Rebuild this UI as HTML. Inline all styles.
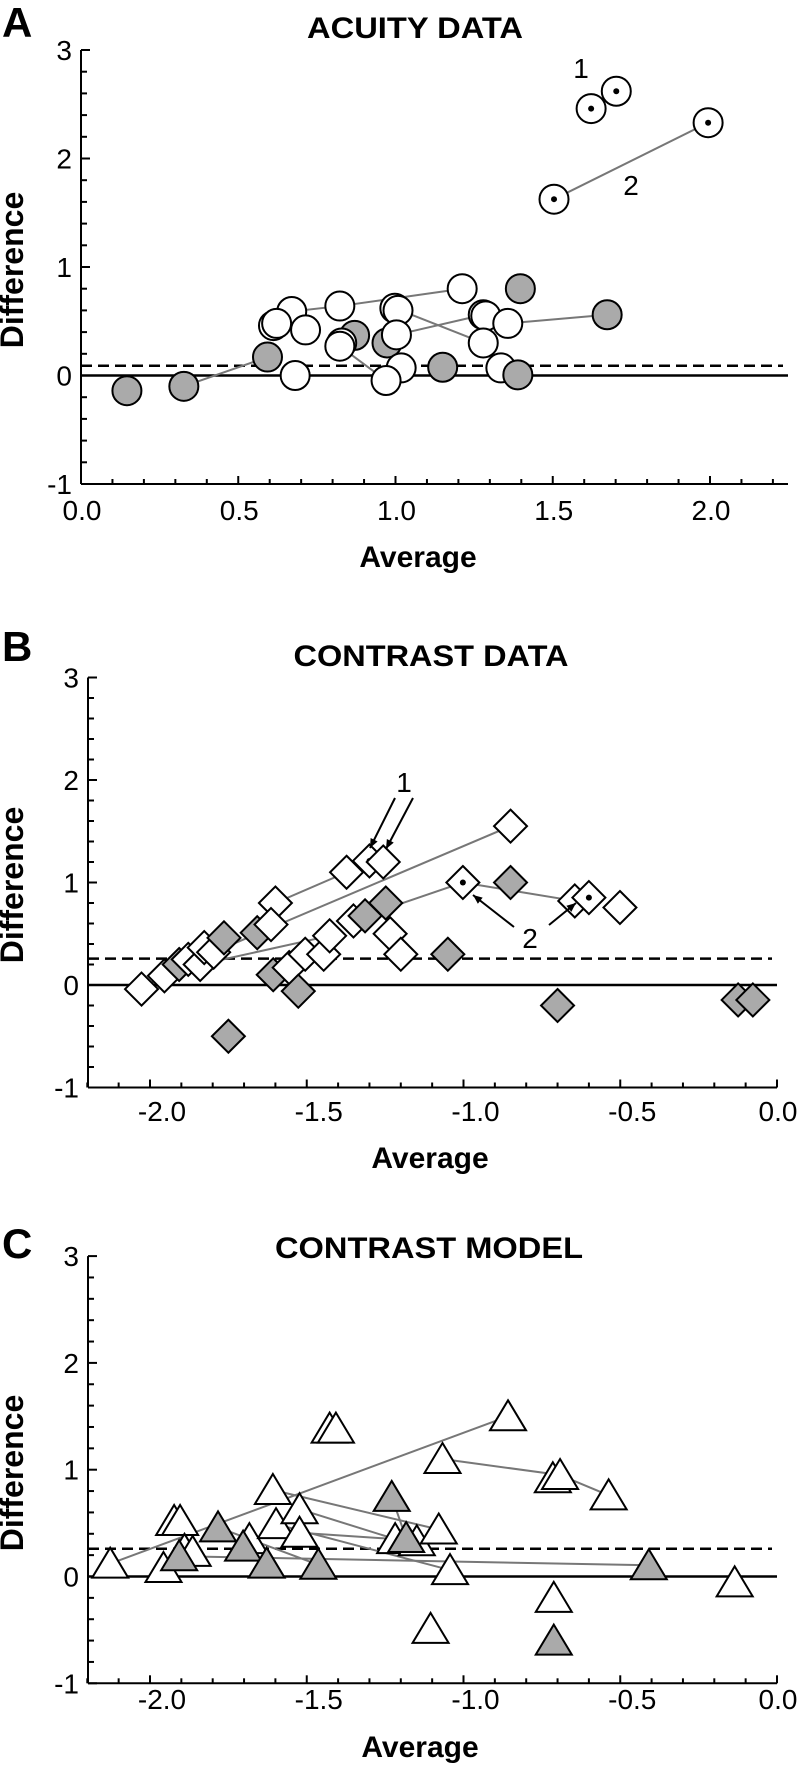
<!DOCTYPE html>
<html><head><meta charset="utf-8"><style>
html,body{margin:0;padding:0;background:#fff}
svg{display:block}
text{font-family:"Liberation Sans",Arial,sans-serif}
</style></head><body>
<svg id="fig" width="800" height="1766" viewBox="0 0 800 1766" xmlns="http://www.w3.org/2000/svg"></svg>
<script>
// ---- Panel A: acuity data ----
const acuityAvg  = [0.146,0.327,0.593,0.67,0.612,0.622,0.714,0.681,0.823,0.870,0.829,0.823,0.998,1.008,0.973,1.003,1.018,0.970,1.150,1.212,1.279,1.287,1.279,1.357,1.335,1.397,1.389,1.673,1.504,1.622,1.702,1.994];
const acuityDiff = [-0.14,-0.10,0.17,0.59,0.46,0.48,0.42,0.0,0.64,0.37,0.30,0.27,0.62,0.60,0.30,0.375,0.07,-0.046,0.076,0.80,0.56,0.55,0.30,0.48,0.07,0.80,0.006,0.56,1.625,2.46,2.62,2.33];
const acuityGray = [1,1,1,0,0,0,0,0,0,1,0,0,0,0,1,0,0,0,1,0,0,0,0,0,0,1,1,1,0,0,0,0];
const acuityDot  = [0,0,0,0,0,0,0,0,0,0,0,0,0,0,0,0,0,0,0,0,0,0,0,0,0,0,0,0,1,1,1,1];
const acuityLinks = [[1,2],[3,8],[8,19],[12,22],[15,20],[23,27],[11,17],[28,31]];
const acuityBias = 0.09;

// ---- Panel B: contrast data ----
const contrastAvg  = [-2.027,-1.954,-1.907,-1.878,-1.84,-1.827,-1.797,-1.764,-1.75,-1.658,-1.60,-1.614,-1.607,-1.556,-1.527,-1.505,-1.446,-1.427,-1.373,-1.30,-1.256,-1.351,-1.314,-1.248,-1.234,-1.20,-1.05,-1.002,-0.85,-0.85,-0.70,-0.645,-0.60,-0.501,-0.124,-0.077];
const contrastDiff = [-0.04,0.09,0.20,0.25,0.20,0.365,0.32,0.46,-0.50,0.51,0.80,0.59,0.10,0.17,-0.06,0.30,0.30,0.48,1.10,1.21,1.20,0.625,0.675,0.80,0.50,0.30,0.30,1.00,1.00,1.55,-0.20,0.82,0.853,0.756,-0.146,-0.146];
const contrastGray = [0,0,1,0,0,0,0,1,1,1,0,0,1,0,1,0,0,0,0,0,0,0,1,1,0,0,1,0,1,0,1,0,0,0,1,1];
const contrastDot  = [0,0,0,0,0,0,0,0,0,0,0,0,0,0,0,0,0,0,0,1,0,0,0,0,0,0,0,1,0,0,0,0,1,0,0,0];
const contrastLinks = [[0,3],[10,18],[6,29],[4,17],[22,27],[27,31]];
const contrastBias = 0.257;

// ---- Panel C: contrast model ----
const modelAvg  = [-2.127,-1.957,-1.923,-1.904,-1.89,-1.864,-1.907,-1.783,-1.683,-1.703,-1.628,-1.608,-1.598,-1.523,-1.523,-1.463,-1.427,-1.407,-1.229,-1.218,-1.149,-1.183,-1.079,-1.043,-1.067,-1.105,-0.858,-0.715,-0.692,-0.537,-0.712,-0.712,-0.409,-0.135];
const modelDiff = [0.12,0.08,0.52,0.52,0.25,0.23,0.19,0.46,0.35,0.28,0.12,0.81,0.49,0.63,0.41,0.11,1.385,1.385,0.745,0.35,0.33,0.36,0.44,0.06,1.10,-0.49,1.50,0.92,0.95,0.76,-0.20,-0.60,0.105,-0.055];
const modelGray = [0,0,0,0,0,0,1,1,0,1,1,0,0,0,0,1,0,0,1,0,0,1,0,0,0,0,0,0,0,0,0,1,1,0];
const modelLinks = [[0,26],[24,28],[28,29],[11,22],[13,19],[14,19],[7,15],[6,32],[18,21],[12,23]];
const modelBias = 0.26;

const NS = "http://www.w3.org/2000/svg";
const svg = document.getElementById('fig');
function mk(tag, attrs, parent){
  const e = document.createElementNS(NS, tag);
  for (const k in attrs) e.setAttribute(k, attrs[k]);
  (parent||svg).appendChild(e);
  return e;
}
function txt(s, attrs, parent){ const t = mk('text', attrs, parent); t.textContent = s; return t; }

function panel(cfg){
  const g = mk('g', {});
  
  
  const X = v => cfg.x0 + (v - cfg.xv0) * cfg.xs;
  const Y = v => cfg.y0 - v * cfg.ys;
  const axL = cfg.axisX, axR = cfg.axisR, axT = Y(3), axB = Y(-1);
  const L = txt(cfg.letter, {x: 2, y: cfg.letterY, 'font-size': 42, 'font-weight': 'bold'}, g);
  
  
  const T = txt(cfg.title, {x: cfg.titleX, y: cfg.titleY, 'font-size': 30, 'font-weight': 'bold', 'text-anchor': 'middle', textLength: cfg.titleW, lengthAdjust: 'spacingAndGlyphs'}, g);
  
  
  const ya = mk('line', {x1: axL, y1: axT, x2: axL, y2: axB, stroke: '#000', 'stroke-width': 2}, g);
  
  
  const xa = mk('line', {x1: axL, y1: axB, x2: axR, y2: axB, stroke: '#000', 'stroke-width': 2}, g);
  
  
  for (let i = -5; i <= 15; i++) {
    const v = i / 5, yy = Y(v), major = (i % 5 === 0);
    mk('line', {x1: axL, y1: yy, x2: axL + (major ? 9 : 6), y2: yy, stroke: '#000', 'stroke-width': 2}, g);
    if (major) {
      const t = txt(String(v), {x: axL - 9, y: yy + 10, 'font-size': 28, 'text-anchor': 'end'}, g);
      
      
    }
  }
  for (let i = Math.ceil(cfg.xmin * 10); i <= Math.floor(cfg.xmax * 10 + 1e-6); i++) {
    const v = i / 10, xx = X(v), major = (i % 5 === 0);
    mk('line', {x1: xx, y1: axB, x2: xx, y2: axB - (major ? 8 : 5), stroke: '#000', 'stroke-width': 2}, g);
    if (major) {
      const t = txt(v.toFixed(1), {x: xx + (v < 0 ? 12 : 1), y: cfg.xLabY, 'font-size': 28, 'text-anchor': 'middle'}, g);
      
      
    }
  }
  const xt = txt('Average', {x: cfg.avgX, y: cfg.avgY, 'font-size': 30, 'font-weight': 'bold', 'text-anchor': 'middle'}, g);
  
  
  const yt = txt('Difference', {x: 0, y: 0, 'font-size': 32, 'font-weight': 'bold', 'text-anchor': 'middle', transform: 'translate(23,' + cfg.diffY + ') rotate(-90)'}, g);
  
  
  const zl = mk('line', {x1: axL, y1: Y(0), x2: axR, y2: Y(0), stroke: '#000', 'stroke-width': 2.5}, g);
  
  
  const bl = mk('line', {x1: axL, y1: Y(cfg.bias), x2: axR - 5, y2: Y(cfg.bias), stroke: '#000', 'stroke-width': 2.5, 'stroke-dasharray': '11,6'}, g);
  
  
  cfg.links.forEach(p => {
    const a = p[0], b = p[1];
    const l = mk('line', {x1: X(cfg.xs_[a]), y1: Y(cfg.ys_[a]), x2: X(cfg.xs_[b]), y2: Y(cfg.ys_[b]), stroke: '#777', 'stroke-width': 2}, g);
    
    
  });
  cfg.xs_.forEach((v, i) => {
    const cx = X(v), cy = Y(cfg.ys_[i]);
    const fill = cfg.gray[i] ? '#aaaaaa' : '#ffffff';
    let m;
    if (cfg.shape === 'circle') m = mk('ellipse', {cx: cx, cy: cy, rx: 14.5, ry: 14.5, fill: fill, stroke: '#000', 'stroke-width': 2}, g);
    else if (cfg.shape === 'diamond') m = mk('polygon', {points: [cx, cy - 16.5, cx + 16.5, cy, cx, cy + 16.5, cx - 16.5, cy].join(','), fill: fill, stroke: '#000', 'stroke-width': 2}, g);
    else m = mk('polygon', {points: [cx, cy - 16, cx + 18, cy + 14, cx - 18, cy + 14].join(','), fill: fill, stroke: '#000', 'stroke-width': 2}, g);
    
    
    if (cfg.dot && cfg.dot[i]) {
      const d = mk('circle', {cx: cx, cy: cy, r: 3, fill: '#000'}, g);
      
      
    }
  });
  return g;
}

panel({name:'panel-a-acuity', letter:'A', letterY:37, title:'ACUITY DATA', titleX:415, titleY:38, titleW:216,
  x0:81, xv0:0, xs:314.5, y0:375.5, ys:108.5, axisX:81, axisR:788, xmin:0, xmax:2.25, xLabY:520,
  avgX:418, avgY:567, diffY:270, bias:acuityBias, links:acuityLinks, xs_:acuityAvg, ys_:acuityDiff, gray:acuityGray, dot:acuityDot, shape:'circle'});
panel({name:'panel-b-contrast-data', letter:'B', letterY:661, title:'CONTRAST DATA', titleX:431, titleY:666, titleW:275,
  x0:150, xv0:-2, xs:313.5, y0:985, ys:102.5, axisX:88, axisR:777, xmin:-2.2, xmax:0, xLabY:1121,
  avgX:430, avgY:1168, diffY:885, bias:contrastBias, links:contrastLinks, xs_:contrastAvg, ys_:contrastDiff, gray:contrastGray, dot:contrastDot, shape:'diamond'});
panel({name:'panel-c-contrast-model', letter:'C', letterY:1258, title:'CONTRAST MODEL', titleX:429, titleY:1258, titleW:308,
  x0:150, xv0:-2, xs:313.5, y0:1576.5, ys:106.8, axisX:88, axisR:777, xmin:-2.2, xmax:0, xLabY:1709,
  avgX:420, avgY:1757, diffY:1473, bias:modelBias, links:modelLinks, xs_:modelAvg, ys_:modelDiff, gray:modelGray, dot:null, shape:'triangle'});

const ann = mk('g', {});


const a1 = txt('1', {x: 581, y: 78, 'font-size': 28, 'text-anchor': 'middle'}, ann);


const a2 = txt('2', {x: 631, y: 195, 'font-size': 28, 'text-anchor': 'middle'}, ann);


const b1 = txt('1', {x: 404, y: 792, 'font-size': 28, 'text-anchor': 'middle'}, ann);


const b2 = txt('2', {x: 530, y: 948, 'font-size': 28, 'text-anchor': 'middle'}, ann);


function arrow(x1, y1, x2, y2){
  const g = mk('g', {}, ann);
  
  
  mk('line', {x1: x1, y1: y1, x2: x2, y2: y2, stroke: '#000', 'stroke-width': 2}, g);
  const ang = Math.atan2(y2 - y1, x2 - x1), L = 10, w = 0.4;
  const p = [x2, y2, x2 - L * Math.cos(ang - w), y2 - L * Math.sin(ang - w), x2 - L * Math.cos(ang + w), y2 - L * Math.sin(ang + w)];
  mk('polygon', {points: p.join(','), fill: '#000'}, g);
}
arrow(395, 798, 370, 848);
arrow(413, 798, 386, 849);
arrow(514, 927, 473, 895);
arrow(549, 925, 576, 903);
</script>
</body></html>
